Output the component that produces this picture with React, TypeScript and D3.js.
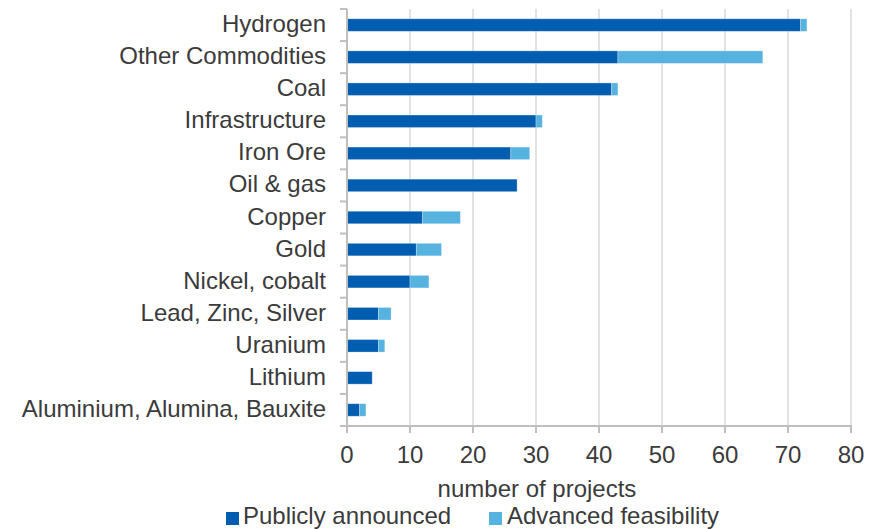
import React from "react";
import * as d3 from "d3";

const categories = [
  "Hydrogen",
  "Other Commodities",
  "Coal",
  "Infrastructure",
  "Iron Ore",
  "Oil & gas",
  "Copper",
  "Gold",
  "Nickel, cobalt",
  "Lead, Zinc, Silver",
  "Uranium",
  "Lithium",
  "Aluminium, Alumina, Bauxite",
];
const publiclyAnnounced = [72, 43, 42, 30, 26, 27, 12, 11, 10, 5, 5, 4, 2];
const advancedFeasibility = [1, 23, 1, 1, 3, 0, 6, 4, 3, 2, 1, 0, 1];
const xTicks = [0, 10, 20, 30, 40, 50, 60, 70, 80];
const seriesNames = ["Publicly announced", "Advanced feasibility"];
const seriesColors = ["#005DB0", "#56B2DF"];

const W = 877;
const H = 529;
const FONT = "'Liberation Sans', Arial, sans-serif";
const TEXT = "#3b3b3b";

export default function App() {
  const x = d3.scaleLinear().domain([0, 80]).range([347, 851]);
  const y = d3.scaleBand<string>().domain(categories).range([9, 426]).paddingInner(0.61).paddingOuter(0.305);
  const yb = d3.scaleBand<string>().domain(categories).range([9, 426]);
  const axisY = 426;
  const bw = yb.bandwidth();

  return (
    <svg width={W} height={H} style={{ position: "absolute", left: 0, top: 0, background: "#fff" }}>
      {/* gridlines */}
      {xTicks.slice(1).map((t) => (
        <line key={"g" + t} x1={x(t)} x2={x(t)} y1={9} y2={axisY} stroke="#d9d9d9" strokeWidth={1.5} />
      ))}
      {/* bars */}
      {categories.map((c, i) => {
        const a = publiclyAnnounced[i];
        const b = advancedFeasibility[i];
        const yy = y(c)!;
        const h = y.bandwidth();
        return (
          <g key={c}>
            <rect x={x(0)} y={yy} width={x(a) - x(0)} height={h} fill={seriesColors[0]} stroke="#ffffff" strokeOpacity={0.35} strokeWidth={0.8} />
            {b > 0 && (
              <rect x={x(a)} y={yy} width={x(a + b) - x(a)} height={h} fill={seriesColors[1]} stroke="#ffffff" strokeOpacity={0.35} strokeWidth={0.8} />
            )}
          </g>
        );
      })}
      {/* y axis */}
      <line x1={347} x2={347} y1={9} y2={axisY} stroke="#bfbfbf" strokeWidth={2} />
      {categories.map((c, i) => (
        <line key={"yt" + i} x1={340} x2={347} y1={yb(c)!} y2={yb(c)!} stroke="#bfbfbf" strokeWidth={2} />
      ))}
      <line x1={340} x2={347} y1={axisY} y2={axisY} stroke="#bfbfbf" strokeWidth={2} />
      {categories.map((c) => (
        <text key={"yl" + c} x={326} y={yb(c)! + bw / 2 + 7} textAnchor="end" fontFamily={FONT} fontSize={24} fill={TEXT}>
          {c}
        </text>
      ))}
      {/* x axis */}
      <line x1={346} x2={852} y1={axisY} y2={axisY} stroke="#bfbfbf" strokeWidth={2} />
      {xTicks.map((t) => (
        <g key={"xt" + t}>
          <line x1={x(t)} x2={x(t)} y1={axisY} y2={433} stroke="#bfbfbf" strokeWidth={2} />
          <text x={x(t)} y={463} textAnchor="middle" fontFamily={FONT} fontSize={24} fill={TEXT}>
            {t}
          </text>
        </g>
      ))}
      <text x={537} y={497} textAnchor="middle" fontFamily={FONT} fontSize={24} fill={TEXT}>
        number of projects
      </text>
      {/* legend */}
      <rect x={226} y={512} width={13} height={13} fill={seriesColors[0]} />
      <text x={243} y={524} fontFamily={FONT} fontSize={24} fill={TEXT}>
        {seriesNames[0]}
      </text>
      <rect x={489} y={512} width={13} height={13} fill={seriesColors[1]} />
      <text x={507} y={524} fontFamily={FONT} fontSize={24} fill={TEXT}>
        {seriesNames[1]}
      </text>
    </svg>
  );
}
